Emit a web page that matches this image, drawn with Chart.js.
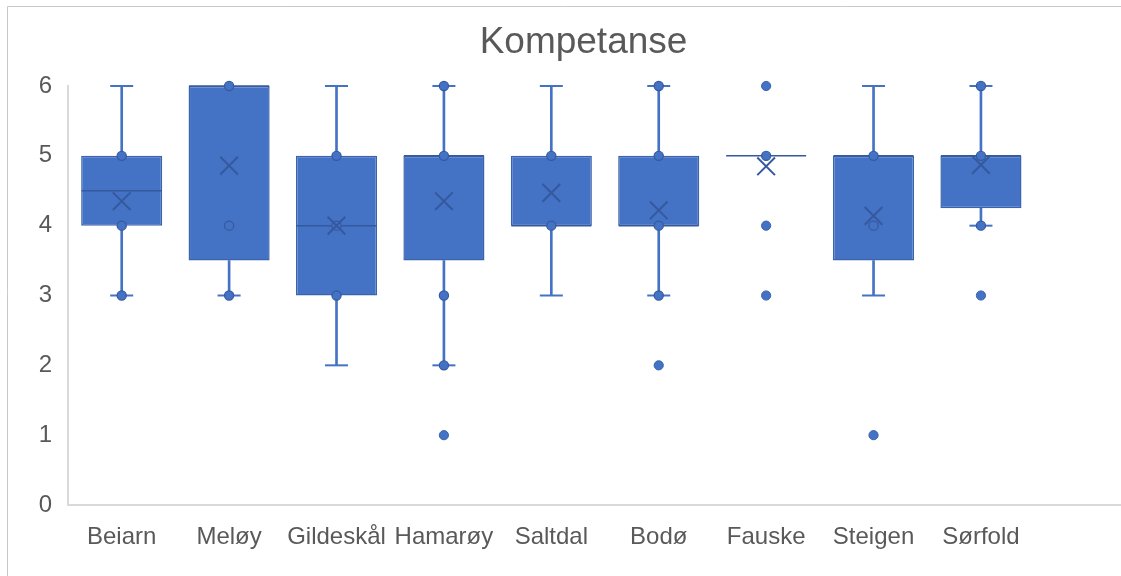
<!DOCTYPE html>
<html>
<head>
<meta charset="utf-8">
<script src="https://cdn.jsdelivr.net/npm/chart.js@4/dist/chart.umd.min.js"></script>
<style>
html,body{margin:0;padding:0;background:#fff;overflow:hidden}
#wrap{width:1121px;height:576px;position:relative;overflow:hidden}
canvas{display:block}
</style>
</head>
<body>
<div id="wrap"><canvas id="c" width="1121" height="576"></canvas></div>
<script>
// ---- data ----
const categories   = ['Beiarn','Meløy','Gildeskål','Hamarøy','Saltdal','Bodø','Fauske','Steigen','Sørfold'];
const q1           = [4,   3.5, 3, 3.5, 4,    4,    5,    3.5,  4.25];
const q3           = [5,   6,   5, 5,   5,    5,    5,    5,    5];
const median       = [4.5, 6,   4, 5,   4,    4,    5,    5,    5];
const mean         = [4.35,4.86,4.0,4.35,4.47,4.22,4.85,4.14,4.87];
const whiskerLow   = [3,   3,   2, 2,   3,    3,    5,    3,    4];
const whiskerHigh  = [6,   6,   6, 6,   6,    6,    5,    6,    6];
const innerPoints  = [[3,4,5],[3,4,6],[3,4,5],[2,3,5,6],[4,5],[3,4,5,6],[5],[4,5],[4,5,6]];
const outlierPoints= [[],[],[],[1],[],[2],[3,4,6],[1],[3]];
const yTicks       = [0,1,2,3,4,5,6];
const chartTitle   = 'Kompetanse';

// ---- build library datasets ----
const flat = arr => arr.flatMap((vals,i)=>vals.map(v=>({x:i,y:v})));
const boxes   = categories.map((_,i)=>({x:i,y:[q1[i],q3[i]]}));
const stemLo  = categories.map((_,i)=>({x:i,y:[whiskerLow[i],q1[i]]}));
const stemHi  = categories.map((_,i)=>({x:i,y:[q3[i],whiskerHigh[i]]}));
const capLo   = categories.map((_,i)=>whiskerLow[i]<q1[i]?{x:i,y:whiskerLow[i]}:null).filter(Boolean);
const capHi   = categories.map((_,i)=>whiskerHigh[i]>q3[i]?{x:i,y:whiskerHigh[i]}:null).filter(Boolean);
const medPts  = median.map((v,i)=>({x:i,y:v}));
const meanPts = mean.map((v,i)=>({x:i,y:v}));

const BLUE='#4472C4', EDGE='#3A63AE', DARK='#35599E';
Chart.defaults.font.family = '"Liberation Sans", Arial, sans-serif';
Chart.defaults.color = '#595959';

const frame = {
  id:'frame',
  beforeDraw(chart){
    const ctx=chart.ctx;
    ctx.save();
    ctx.fillStyle='#fff';
    ctx.fillRect(0,0,chart.width,chart.height);
    ctx.strokeStyle='#c9c9c9';
    ctx.lineWidth=1;
    ctx.beginPath();
    ctx.moveTo(7.5,chart.height); ctx.lineTo(7.5,6.5); ctx.lineTo(chart.width,6.5);
    ctx.stroke();
    ctx.restore();
  }
};

const scatterBase = {type:'scatter', showLine:false, pointHoverRadius:0, clip:false};

new Chart(document.getElementById('c'), {
  type:'bar',
  data:{
    datasets:[
      {...scatterBase, label:'mean', data:meanPts, pointStyle:'crossRot', pointRadius:12.5,
        pointBorderColor:DARK, pointBorderWidth:2, pointBackgroundColor:'rgba(0,0,0,0)'},
      {...scatterBase, label:'outliers', data:flat(outlierPoints), pointStyle:'circle', pointRadius:4.6,
        pointBackgroundColor:BLUE, pointBorderColor:EDGE, pointBorderWidth:1},
      {...scatterBase, label:'inner', data:flat(innerPoints), pointStyle:'circle', pointRadius:4.6,
        pointBackgroundColor:BLUE, pointBorderColor:DARK, pointBorderWidth:1.2},
      {...scatterBase, label:'median', data:medPts, pointStyle:'line', pointRadius:40,
        pointBorderColor:DARK, pointBorderWidth:1.5},
      {...scatterBase, label:'capHi', data:capHi, pointStyle:'line', pointRadius:11.5,
        pointBorderColor:BLUE, pointBorderWidth:2},
      {...scatterBase, label:'capLo', data:capLo, pointStyle:'line', pointRadius:11.5,
        pointBorderColor:BLUE, pointBorderWidth:2},
      {type:'bar', label:'box', data:boxes, backgroundColor:BLUE, borderColor:EDGE, borderWidth:1.5,
        borderSkipped:false, grouped:false, barPercentage:0.755, categoryPercentage:1},
      {type:'bar', label:'stemLo', data:stemLo, backgroundColor:BLUE, borderWidth:0,
        grouped:false, barThickness:2},
      {type:'bar', label:'stemHi', data:stemHi, backgroundColor:BLUE, borderWidth:0,
        grouped:false, barThickness:2}
    ]
  },
  options:{
    responsive:false,
    maintainAspectRatio:false,
    animation:false,
    devicePixelRatio:1,
    events:[],
    layout:{autoPadding:false, padding:{left:7,right:-39,top:0,bottom:7}},
    plugins:{
      legend:{display:false},
      tooltip:{enabled:false},
      title:{display:true, text:chartTitle, color:'#595959',
        font:{size:37, weight:'normal'}, padding:{top:20.4,bottom:21.2}}
    },
    scales:{
      x:{
        type:'linear', offset:false, min:-0.5, max:9.304,
        grid:{display:false, drawTicks:false},
        border:{display:true, color:'#d9d9d9', width:2},
        afterBuildTicks:(axis)=>{ axis.ticks = categories.map((_,i)=>({value:i})); },
        ticks:{callback:(v)=>categories[v], font:{size:24}, padding:17.6, maxRotation:0, autoSkip:false}
      },
      y:{
        min:0, max:6,
        grid:{display:false, drawTicks:false},
        border:{display:true, color:'#d9d9d9', width:2},
        afterBuildTicks:(axis)=>{ axis.ticks = yTicks.map(v=>({value:v})); },
        afterFit:(scale)=>{ scale.width = 61; },
        ticks:{font:{size:24}, padding:16}
      }
    }
  },
  plugins:[frame]
});
</script>
</body>
</html>
